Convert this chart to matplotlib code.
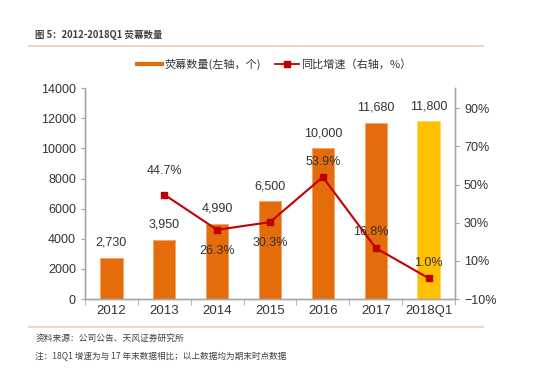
import matplotlib.pyplot as plt
import numpy as np

plt.rcParams['font.family'] = ['Liberation Sans', 'Noto Sans CJK SC', 'DejaVu Sans']

# Data
years = ['2012', '2013', '2014', '2015', '2016', '2017', '2018Q1']
screens = [2730, 3950, 4990, 6500, 10000, 11680, 11800]
screen_labels = ['2,730', '3,950', '4,990', '6,500', '10,000', '11,680', '11,800']
growth = [np.nan, 44.7, 26.3, 30.3, 53.9, 16.8, 1.0]
growth_labels = ['', '44.7%', '26.3%', '30.3%', '53.9%', '16.8%', '1.0%']

orange = '#E46C0A'
gold = '#FFC000'
red = '#C00000'
grey = '#A6A6A6'
cjk = ['Noto Sans CJK SC', 'DejaVu Sans']

fig = plt.figure(figsize=(5.5, 3.73), dpi=100)
ax = fig.add_axes([0.1545, 0.198, 0.6727, 0.566])
ax2 = ax.twinx()

x = np.arange(len(years))
colors = [orange] * 6 + [gold]
edges = ['#F4A460'] * 6 + ['#FFD966']
ax.bar(x, screens, width=0.42, color=colors, edgecolor=edges, linewidth=0.6, zorder=2)
for xi, v, lab in zip(x, screens, screen_labels):
    ax.text(xi, v + 600, lab, ha='center', va='bottom', fontsize=9, color='#333333')

ax.set_xlim(-0.5, len(years) - 0.5)
ax.set_ylim(0, 14000)
ax.set_yticks(range(0, 14001, 2000))
ax.set_xticks(x)
ax.set_xticklabels(years)
ax.set_xticks(np.arange(-0.5, len(years), 1), minor=True)
ax.tick_params(axis='x', which='major', length=0, labelsize=9.5, pad=4, colors='#333333')
ax.tick_params(axis='x', which='minor', length=4, color=grey)
ax.tick_params(axis='y', length=3, color=grey, labelsize=9, labelcolor='#333333')

# growth line on right axis
ax2.plot(x, growth, color=red, marker='s', markersize=5, linewidth=1.5, zorder=3)
offsets = {1: (0, 9, 'bottom'), 2: (0, -8, 'top'), 3: (0, -8, 'top'),
           4: (0, 5, 'bottom'), 5: (-0.1, 5, 'bottom'), 6: (0, 5, 'bottom')}
for i, lab in enumerate(growth_labels):
    if not lab:
        continue
    dx, dy, va = offsets[i]
    ax2.text(x[i] + dx, growth[i] + dy, lab, ha='center', va=va,
             fontsize=9, color='#333333')
ax2.set_ylim(-10, 100.5)
ax2.set_yticks(range(-10, 91, 20))
ax2.set_yticklabels([f'{t}%' if t >= 0 else f'\u2212{abs(t)}%' for t in range(-10, 91, 20)])
ax2.tick_params(axis='y', length=3, color=grey, labelsize=9, labelcolor='#333333')

for a in (ax, ax2):
    a.spines['top'].set_visible(False)
    for s in ('left', 'right', 'bottom'):
        a.spines[s].set_color(grey)
        a.spines[s].set_linewidth(1)

# legend drawn manually in figure coords
fig.lines.append(plt.Line2D([0.249, 0.295], [0.828, 0.828], transform=fig.transFigure,
                            color=orange, linewidth=3))
fig.text(0.3, 0.828, '荧幕数量(左轴，个)', fontsize=8, va='center', family=cjk, color='#333333')
fig.lines.append(plt.Line2D([0.5, 0.5215, 0.543], [0.828] * 3, transform=fig.transFigure,
                            color=red, linewidth=1.3, marker='s', markersize=4,
                            markevery=[1]))
fig.text(0.548, 0.828, '同比增速（右轴，%）', fontsize=8, va='center', family=cjk, color='#333333')

# title and frame lines
fig.text(0.064, 0.905, '图 5：2012-2018Q1 荧幕数量', fontsize=6.8, fontweight='bold',
         va='center', family=cjk, color='#404040')
fig.lines.append(plt.Line2D([0.053, 0.878], [0.877, 0.877], transform=fig.transFigure,
                            color='#F8CBAD', linewidth=1.2))
fig.lines.append(plt.Line2D([0.053, 0.878], [0.123, 0.123], transform=fig.transFigure,
                            color='#F8CBAD', linewidth=1.2))
fig.text(0.064, 0.094, '资料来源：公司公告、天风证券研究所', fontsize=6.3, va='center',
         family=cjk, color='#404040')
fig.text(0.064, 0.043, '注：18Q1 增速为与 17 年末数据相比；以上数据均为期末时点数据', fontsize=6.2,
         va='center', family=cjk, color='#404040')

fig.savefig('out.png', dpi=100)
